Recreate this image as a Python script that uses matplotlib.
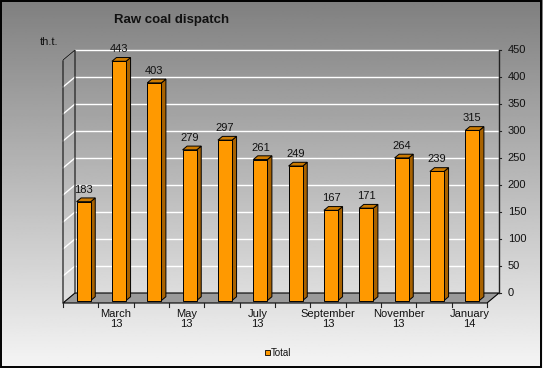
"""Raw coal dispatch, monthly totals, drawn as pseudo-3D columns."""

import matplotlib

matplotlib.use("Agg")
import matplotlib.pyplot as plt
import numpy as np
from matplotlib.patches import Polygon, Rectangle

# data
months = ["February\n13", "March\n13", "April\n13", "May\n13", "June\n13", "July\n13",
          "August\n13", "September\n13", "October\n13", "November\n13", "December\n13", "January\n14"]
totals = [183, 443, 403, 279, 297, 261, 249, 167, 171, 264, 239, 315]
y_ticks = [0, 50, 100, 150, 200, 250, 300, 350, 400, 450]

plt.rcParams["font.family"] = ["Liberation Sans", "DejaVu Sans"]

W, H = 543, 368
fig = plt.figure(figsize=(W / 100, H / 100), dpi=100)

# background gradient (dark grey at top to almost white at bottom)
bg = fig.add_axes([0, 0, 1, 1])
grad = np.linspace(0.50, 0.96, 256).reshape(-1, 1)
bg.imshow(grad, cmap="gray", vmin=0, vmax=1, aspect="auto", extent=[0, 1, 0, 1])
bg.set_xlim(0, 1)
bg.set_ylim(0, 1)
bg.axis("off")
bg.add_patch(Rectangle((0.001, 0.002), 0.996, 0.996, fill=False, ec="black", lw=1.4,
                       transform=bg.transAxes))

# front plane of the plot in pixels
x0, x1 = 63, 487
y_bot, y_top = 303, 60
ax = fig.add_axes([x0 / W, (H - y_bot) / H, (x1 - x0) / W, (y_bot - y_top) / H])
n = len(totals)
ymax = y_ticks[-1]
ax.set_xlim(0, n)
ax.set_ylim(0, ymax)
ax.axis("off")
ax.patch.set_alpha(0)

# depth offset (front -> back) in data units
DX = 12 / ((x1 - x0) / n)
DY = 10 / ((y_bot - y_top) / ymax)

# floor
ax.add_patch(Polygon([(0, 0), (n, 0), (n + DX, DY), (DX, DY)], closed=True,
                     fc="#9a9a9a", ec="black", lw=0.8, clip_on=False, zorder=1))

# gridlines on back wall and left wall
for v in y_ticks[1:]:
    ax.plot([DX, n + DX], [v + DY, v + DY], color="white", lw=1, clip_on=False, zorder=1)
    ax.plot([0, DX], [v, v + DY], color="white", lw=1, clip_on=False, zorder=1)

# left wall outline
ax.plot([0, 0, DX, DX], [0, ymax, ymax + DY, DY], color="#222222", lw=0.9,
        clip_on=False, zorder=2)

# right value axis on back wall
ax.plot([n + DX, n + DX], [DY, ymax + DY], color="#222222", lw=1, clip_on=False, zorder=2)
for v in y_ticks:
    ax.plot([n + DX, n + DX + 0.06], [v + DY, v + DY], color="#222222", lw=0.8,
            clip_on=False, zorder=2)
    ax.text(n + DX + 0.25, v + DY, str(v), ha="left", va="center", fontsize=8,
            color="#111111", clip_on=False)

# category ticks and labels on front edge
for i in range(n + 1):
    ax.plot([i, i], [0, -7], color="#222222", lw=0.8, clip_on=False, zorder=2)
for i, lab in enumerate(months):
    if i % 2 == 1:
        ax.text(i + 0.5, -11, lab, ha="center", va="top", fontsize=8,
                color="#111111", linespacing=1.05, clip_on=False)

# bars
f = 0.25     # front face position in depth
d = 0.375    # bar depth
bw = 0.40    # bar width
front = "#ff9900"
side = "#a86200"
top = "#cc7a00"
for i, v in enumerate(totals):
    bx = i + 0.5 - bw / 2 + f * DX
    by = f * DY
    ddx, ddy = d * DX, d * DY
    ax.add_patch(Polygon([(bx + bw, by), (bx + bw + ddx, by + ddy),
                          (bx + bw + ddx, by + v + ddy), (bx + bw, by + v)],
                         closed=True, fc=side, ec="black", lw=0.7, clip_on=False, zorder=3))
    ax.add_patch(Polygon([(bx, by + v), (bx + bw, by + v),
                          (bx + bw + ddx, by + v + ddy), (bx + ddx, by + v + ddy)],
                         closed=True, fc=top, ec="black", lw=0.7, clip_on=False, zorder=3))
    ax.add_patch(Rectangle((bx, by), bw, v, fc=front, ec="black", lw=0.7,
                           clip_on=False, zorder=4))
    ax.text(bx + bw / 2, by + v + ddy + 6, str(v), ha="center", va="bottom",
            fontsize=8, color="#111111", clip_on=False, zorder=5)

# titles
fig.text(172 / W, 1 - 20 / H, "Raw coal dispatch", ha="center", va="center",
         fontsize=9.5, fontweight="bold", color="#111111")
fig.text(49 / W, 1 - 42 / H, "th.t.", ha="center", va="center", fontsize=8,
         color="#111111")

# legend
fig.patches.append(Rectangle((265 / W, 1 - 354.5 / H), 4.5 / W, 4.5 / H, fc=front,
                             ec="black", lw=0.6, transform=fig.transFigure, figure=fig))
fig.text(271 / W, 1 - 352.5 / H, "Total", ha="left", va="center", fontsize=7,
         color="#111111")

fig.savefig("out.png", dpi=100)
